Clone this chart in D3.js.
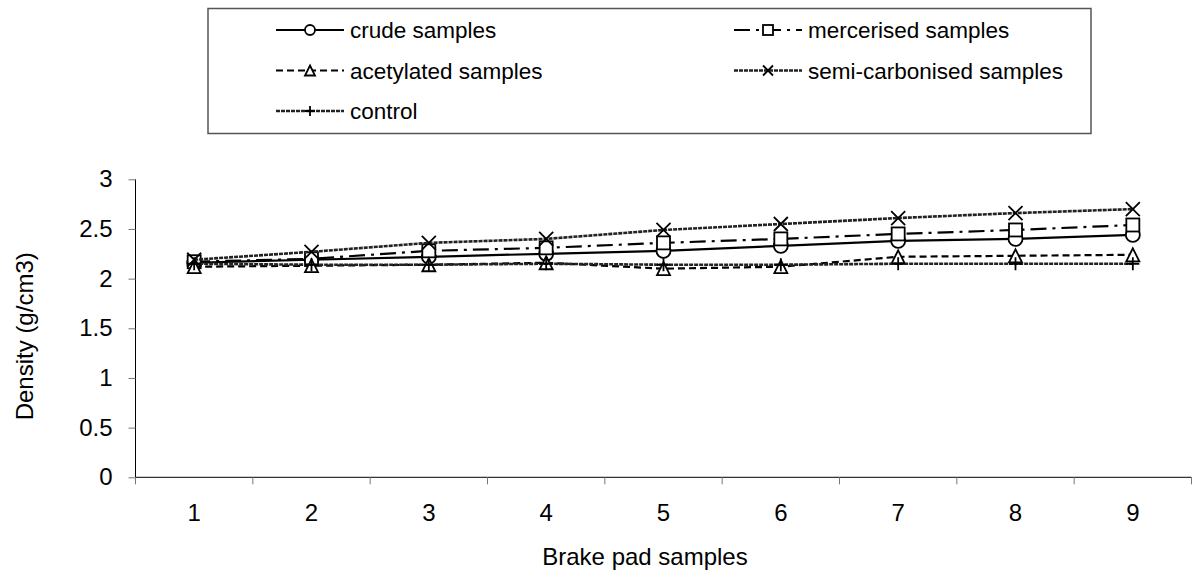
<!DOCTYPE html>
<html>
<head>
<meta charset="utf-8">
<script src="https://cdn.jsdelivr.net/npm/d3@7"></script>
<style>
  body { margin: 0; background: #fff; }
  svg text { font-family: "Liberation Sans", Arial, sans-serif; fill: #000; }
</style>
</head>
<body>
<div class="chart"></div>
<script>
// Data
var samples = [1, 2, 3, 4, 5, 6, 7, 8, 9];
var seriesNames = ["crude samples", "mercerised samples", "acetylated samples", "semi-carbonised samples", "control"];
var crude = [2.16, 2.19, 2.22, 2.25, 2.28, 2.33, 2.38, 2.40, 2.44];
var mercerised = [2.17, 2.20, 2.28, 2.31, 2.36, 2.40, 2.45, 2.49, 2.54];
var acetylated = [2.12, 2.13, 2.14, 2.16, 2.10, 2.12, 2.22, 2.23, 2.24];
var semiCarbonised = [2.19, 2.27, 2.36, 2.40, 2.49, 2.55, 2.61, 2.66, 2.70];
var control = [2.15, 2.14, 2.14, 2.15, 2.14, 2.14, 2.15, 2.15, 2.15];
var yTicks = [0, 0.5, 1, 1.5, 2, 2.5, 3];

var svgWidth = 1196;
var svgHeight = 572;
var plot = { left: 135.5, right: 1191.5, top: 179.3, bottom: 477.3 };

var svg = d3.select(".chart").append("svg")
  .attr("width", svgWidth)
  .attr("height", svgHeight);

var xScale = d3.scaleBand().domain(samples).range([plot.left, plot.right]).padding(0);
var yScale = d3.scaleLinear().domain([0, 3]).range([plot.bottom, plot.top]);
function cx(d) { return xScale(d) + xScale.bandwidth() / 2; }

// line + marker styles per series
var styles = [
  { values: crude, dash: null, width: 2.2, color: "#000", marker: "circle" },
  { values: mercerised, dash: "16,6,3,6", width: 2.2, color: "#000", marker: "square" },
  { values: acetylated, dash: "7,4", width: 2.2, color: "#000", marker: "triangle" },
  { values: semiCarbonised, dash: "4,1", width: 2.6, color: "#222", marker: "cross" },
  { values: control, dash: "4,1", width: 2.6, color: "#222", marker: "plus" }
];

function drawMarker(g, type, x, y, s) {
  var m;
  if (type === "circle") {
    m = g.append("circle").attr("cx", x).attr("cy", y).attr("r", s / 2);
  } else if (type === "square") {
    m = g.append("rect").attr("x", x - s / 2).attr("y", y - s / 2).attr("width", s).attr("height", s);
  } else if (type === "triangle") {
    m = g.append("path").attr("d", "M" + x + "," + (y - s / 2) + "L" + (x + s / 2) + "," + (y + s / 2) + "L" + (x - s / 2) + "," + (y + s / 2) + "Z");
  } else if (type === "cross") {
    var h = s / 2;
    m = g.append("path").attr("d", "M" + (x - h) + "," + (y - h) + "L" + (x + h) + "," + (y + h) + "M" + (x + h) + "," + (y - h) + "L" + (x - h) + "," + (y + h));
  } else {
    var p = s / 2;
    m = g.append("path").attr("d", "M" + (x - p) + "," + y + "L" + (x + p) + "," + y + "M" + x + "," + (y - p) + "L" + x + "," + (y + p));
  }
  m.attr("fill", "#fff").attr("stroke", "#000").attr("stroke-width", 1.8);
}

// Axes
var leftAxis = d3.axisLeft(yScale).tickValues(yTicks).tickSize(7).tickFormat(d3.format("")).tickPadding(16);
var yAxisG = svg.append("g").attr("transform", "translate(" + plot.left + ",0)").call(leftAxis);
yAxisG.select(".domain").attr("stroke", "#000").attr("d", "M0," + plot.top + "V" + plot.bottom);
yAxisG.selectAll(".tick line").attr("stroke", "#777");
yAxisG.selectAll(".tick text").style("font-size", "24px").attr("fill", "#000");

var bottomAxis = d3.axisBottom(xScale).tickSize(0).tickPadding(27);
var xAxisG = svg.append("g").attr("transform", "translate(0," + plot.bottom + ")").call(bottomAxis);
xAxisG.select(".domain").attr("stroke", "#000").attr("d", "M" + plot.left + ",0H" + plot.right);
xAxisG.selectAll(".tick text").style("font-size", "24px").attr("fill", "#000");

// tick marks on category boundaries
var boundaries = samples.map(function(d) { return xScale(d); }).concat([plot.right]);
svg.append("g").selectAll("line").data(boundaries).enter().append("line")
  .attr("x1", function(d) { return d; }).attr("x2", function(d) { return d; })
  .attr("y1", plot.bottom).attr("y2", plot.bottom + 7)
  .attr("stroke", "#777");

// axis titles
svg.append("text")
  .attr("transform", "translate(33," + ((plot.top + plot.bottom) / 2 + 8) + ") rotate(-90)")
  .attr("text-anchor", "middle")
  .style("font-size", "24px")
  .text("Density (g/cm3)");

svg.append("text")
  .attr("x", 645).attr("y", 565)
  .attr("text-anchor", "middle")
  .style("font-size", "24px")
  .text("Brake pad samples");

// Series
var line = d3.line()
  .x(function(d, i) { return cx(samples[i]); })
  .y(function(d) { return yScale(d); });

styles.forEach(function(st) {
  var g = svg.append("g");
  g.append("path")
    .datum(st.values)
    .attr("d", line)
    .attr("fill", "none")
    .attr("stroke", st.color)
    .attr("stroke-width", st.width)
    .attr("stroke-dasharray", st.dash);
  st.values.forEach(function(v, i) {
    drawMarker(g, st.marker, cx(samples[i]), yScale(v), st.marker === "circle" ? 14 : (st.marker === "cross" ? 14 : 13));
  });
});

// Legend
var legend = svg.append("g");
legend.append("rect")
  .attr("x", 208).attr("y", 8.5).attr("width", 883).attr("height", 125)
  .attr("fill", "#fff").attr("stroke", "#555").attr("stroke-width", 1.5);

var legendCols = [276, 734];
var legendRows = [30, 70.5, 111];
seriesNames.forEach(function(name, i) {
  var st = styles[i];
  var lx = legendCols[i % 2];
  var ly = legendRows[Math.floor(i / 2)];
  var item = legend.append("g");
  item.append("line")
    .attr("x1", lx).attr("x2", lx + 68)
    .attr("y1", ly).attr("y2", ly)
    .attr("stroke", st.color)
    .attr("stroke-width", st.width)
    .attr("stroke-dasharray", st.dash);
  drawMarker(item, st.marker, lx + 34, ly, 10);
  item.append("text")
    .attr("x", lx + 74).attr("y", ly)
    .attr("dy", "0.36em")
    .style("font-size", "22.5px")
    .text(name);
});
</script>
</body>
</html>
